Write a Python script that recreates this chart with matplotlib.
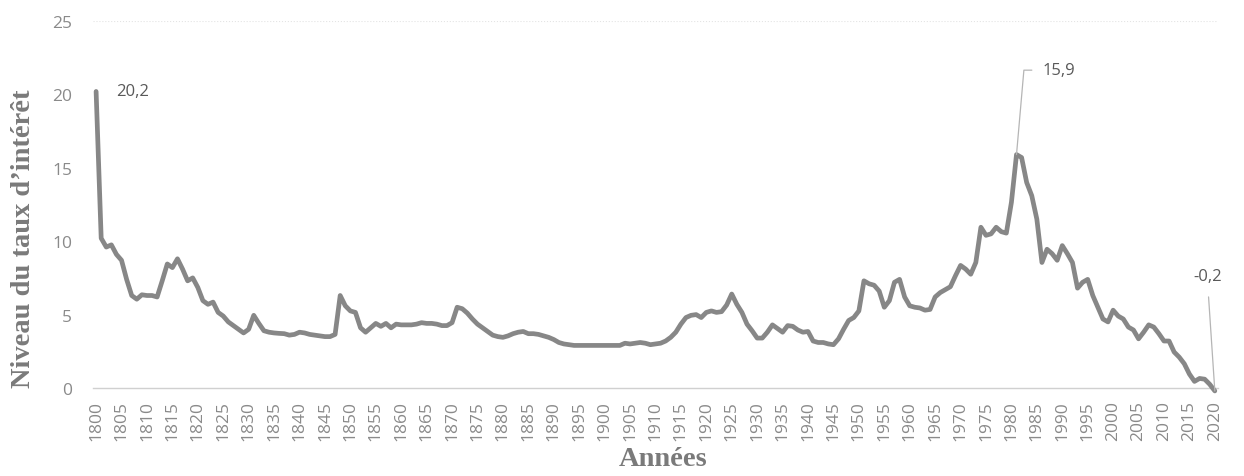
import numpy as np
import matplotlib.pyplot as plt

years = np.arange(1800, 2021)
rates = [
    20.2, 10.2, 9.6, 9.75, 9.1, 8.7, 7.4, 6.3, 6.05, 6.35,      # 1800-1809
    6.3, 6.3, 6.2, 7.3, 8.45, 8.2, 8.8, 8.1, 7.3, 7.5,          # 1810-1819
    6.85, 5.95, 5.7, 5.85, 5.15, 4.9, 4.5, 4.25, 4.0, 3.75,     # 1820-1829
    4.0, 4.95, 4.4, 3.9, 3.8, 3.75, 3.72, 3.7, 3.6, 3.65,       # 1830-1839
    3.8, 3.75, 3.65, 3.6, 3.55, 3.5, 3.5, 3.65, 6.3, 5.6,       # 1840-1849
    5.25, 5.15, 4.1, 3.8, 4.1, 4.4, 4.2, 4.4, 4.1, 4.35,        # 1850-1859
    4.3, 4.3, 4.3, 4.35, 4.45, 4.4, 4.4, 4.35, 4.25, 4.25,      # 1860-1869
    4.45, 5.5, 5.4, 5.1, 4.7, 4.35, 4.1, 3.85, 3.6, 3.5,        # 1870-1879
    3.45, 3.55, 3.7, 3.8, 3.85, 3.7, 3.7, 3.65, 3.55, 3.45,     # 1880-1889
    3.3, 3.1, 3.0, 2.95, 2.9, 2.9, 2.9, 2.9, 2.9, 2.9,          # 1890-1899
    2.9, 2.9, 2.9, 2.9, 3.05, 3.0, 3.05, 3.1, 3.05, 2.95,       # 1900-1909
    3.0, 3.05, 3.2, 3.45, 3.8, 4.35, 4.8, 4.95, 5.0, 4.8,       # 1910-1919
    5.15, 5.25, 5.15, 5.2, 5.65, 6.4, 5.7, 5.15, 4.35, 3.9,     # 1920-1929
    3.4, 3.4, 3.8, 4.3, 4.05, 3.8, 4.25, 4.2, 3.95, 3.8,        # 1930-1939
    3.85, 3.2, 3.1, 3.1, 3.0, 2.95, 3.35, 4.0, 4.6, 4.8,        # 1940-1949
    5.25, 7.3, 7.1, 7.0, 6.6, 5.5, 5.95, 7.2, 7.4, 6.2,         # 1950-1959
    5.6, 5.5, 5.45, 5.3, 5.35, 6.2, 6.5, 6.7, 6.9, 7.65,        # 1960-1969
    8.35, 8.1, 7.75, 8.55, 10.95, 10.4, 10.5, 10.95, 10.65, 10.55,  # 1970-1979
    12.65, 15.9, 15.7, 14.0, 13.1, 11.5, 8.55, 9.45, 9.15, 8.7,     # 1980-1989
    9.7, 9.15, 8.55, 6.8, 7.2, 7.4, 6.3, 5.5, 4.7, 4.5,         # 1990-1999
    5.3, 4.9, 4.7, 4.15, 3.95, 3.35, 3.8, 4.3, 4.15, 3.7,       # 2000-2009
    3.2, 3.2, 2.45, 2.1, 1.65, 0.95, 0.45, 0.65, 0.6, 0.25,     # 2010-2019
    -0.2,                                                       # 2020
]
tick_years = np.arange(1800, 2021, 5)

plt.rcParams['font.family'] = ['Open Sans', 'DejaVu Sans']

fig = plt.figure(figsize=(12.44, 4.77), dpi=100)
ax = fig.add_axes([0.0748, 0.1845, 0.9042, 0.7694])

ax.plot(years, rates, color='#878787', lw=3.4, solid_joinstyle='round',
        solid_capstyle='round', clip_on=False, zorder=3)

ax.set_xlim(1799.4, 2020.6)
ax.set_ylim(0, 25)
ax.set_yticks([0, 5, 10, 15, 20, 25])
ax.set_xticks(tick_years)
ax.set_xticklabels([str(y) for y in tick_years], rotation=90)
ax.tick_params(axis='both', length=0, labelsize=12.5, labelcolor='#8a8a8a')
ax.tick_params(axis='y', pad=15)
ax.tick_params(axis='x', pad=9)

for s in ['top', 'right', 'left']:
    ax.spines[s].set_visible(False)
ax.spines['bottom'].set_color('#d0d0d0')
ax.spines['bottom'].set_linewidth(1)
ax.axhline(25, color='#e4e4e4', lw=0.8, ls=':', zorder=0)

lbl = dict(fontsize=12, color='#595959')
ax.text(1803.9, 20.2, '20,2', ha='left', va='center', **lbl)
ax.annotate('15,9', xy=(1981, 15.9), xytext=(1986.2, 21.65), ha='left', va='center',
            annotation_clip=False,
            arrowprops=dict(arrowstyle='-', color='#b5b5b5', lw=0.9, shrinkA=6, shrinkB=0,
                            connectionstyle='angle,angleA=0,angleB=85,rad=0'),
            **lbl)
ax.annotate('-0,2', xy=(2020, -0.2), xytext=(2018.5, 7.6), ha='center', va='center',
            annotation_clip=False,
            arrowprops=dict(arrowstyle='-', color='#b5b5b5', lw=0.9, shrinkA=7, shrinkB=0),
            **lbl)

serif = dict(family=['Liberation Serif', 'DejaVu Serif'], fontweight='bold',
             fontsize=20.5, color='#7a7a7a')
fig.text(24 / 1244, 1 - 239 / 477, 'Niveau du taux d’intérêt', rotation=90,
         ha='center', va='center', **serif)
fig.text(663 / 1244, 1 - 460 / 477, 'Années', ha='center', va='center', **serif)

fig.savefig('out.png', dpi=100)
